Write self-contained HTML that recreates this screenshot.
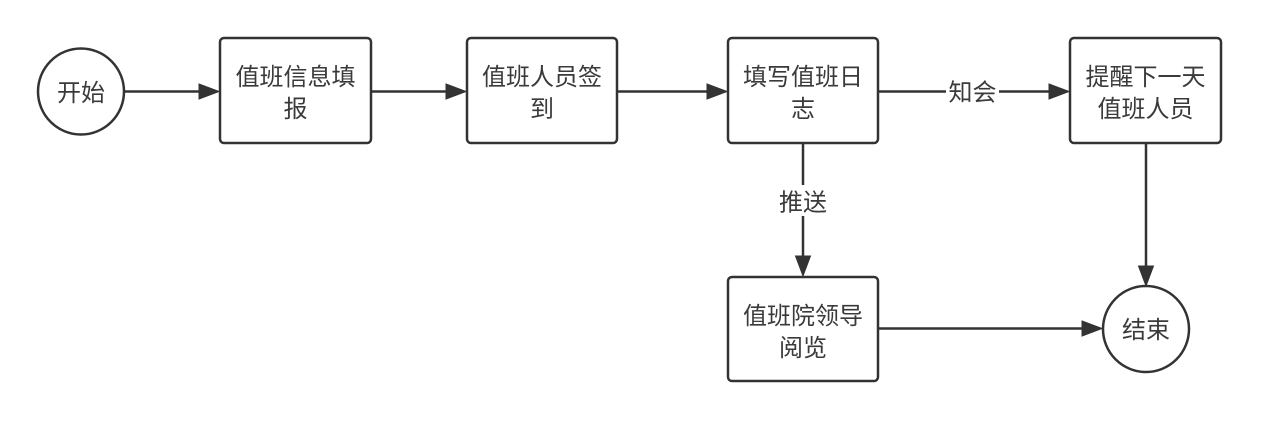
<!DOCTYPE html>
<html>
<head>
<meta charset="utf-8">
<style>
  html, body { margin: 0; padding: 0; background: #ffffff; }
  body { width: 1261px; height: 424px; overflow: hidden; }
  svg { display: block; }
  text { font-family: "Liberation Sans", "Noto Sans CJK SC", "WenQuanYi Zen Hei", sans-serif; font-size: 24px; fill: #3a3a3a; text-anchor: middle; }
</style>
</head>
<body>
<svg width="1261" height="424" viewBox="0 0 1261 424" xmlns="http://www.w3.org/2000/svg">
  <rect x="0" y="0" width="1261" height="424" fill="#ffffff"/>
  <g fill="none" stroke="#333333" stroke-width="2.5">
    <!-- circles -->
    <circle cx="81" cy="91.5" r="43"/>
    <circle cx="1146" cy="329" r="43"/>
    <!-- boxes -->
    <rect x="220" y="38" width="151" height="105" rx="4" ry="4"/>
    <rect x="467" y="38" width="150" height="105" rx="4" ry="4"/>
    <rect x="728" y="38" width="150" height="105" rx="4" ry="4"/>
    <rect x="1070" y="38" width="151" height="105" rx="4" ry="4"/>
    <rect x="728" y="277" width="150" height="104" rx="4" ry="4"/>
    <!-- connectors -->
    <line x1="124" y1="91.5" x2="201" y2="91.5"/>
    <line x1="371" y1="91.5" x2="448" y2="91.5"/>
    <line x1="617" y1="91.5" x2="709" y2="91.5"/>
    <line x1="878" y1="91.5" x2="946" y2="91.5"/>
    <line x1="999" y1="91.5" x2="1051" y2="91.5"/>
    <line x1="803" y1="143" x2="803" y2="185"/>
    <line x1="803" y1="216" x2="803" y2="258"/>
    <line x1="1146" y1="143" x2="1146" y2="268"/>
    <line x1="878" y1="328.5" x2="1084" y2="328.5"/>
  </g>
  <g fill="#333333" stroke="#333333" stroke-width="1" stroke-linejoin="miter">
    <polygon points="219,91.5 199,84 199,99"/>
    <polygon points="466,91.5 446,84 446,99"/>
    <polygon points="727,91.5 707,84 707,99"/>
    <polygon points="1069,91.5 1049,84 1049,99"/>
    <polygon points="803,276 795.5,256 810.5,256"/>
    <polygon points="1146,286 1138.5,266 1153.5,266"/>
    <polygon points="1102,328.5 1082,321 1082,336"/>
  </g>
  <!-- labels -->
  <text x="81" y="101">开始</text>
  <text x="1146" y="338">结束</text>

  <text x="295.5" y="85">值班信息填</text>
  <text x="295.5" y="117">报</text>

  <text x="542" y="85">值班人员签</text>
  <text x="542" y="117">到</text>

  <text x="803" y="85">填写值班日</text>
  <text x="803" y="117">志</text>

  <text x="1145.5" y="85">提醒下一天</text>
  <text x="1145.5" y="117">值班人员</text>

  <text x="803" y="324">值班院领导</text>
  <text x="803" y="356">阅览</text>

  <text x="972.5" y="100.5">知会</text>
  <text x="803" y="210.5">推送</text>
</svg>
</body>
</html>
